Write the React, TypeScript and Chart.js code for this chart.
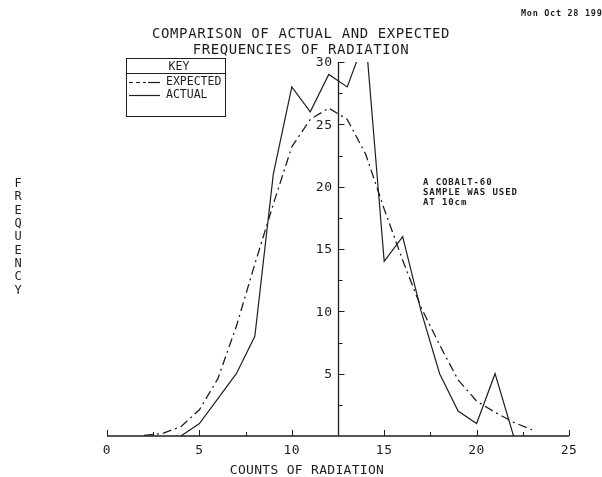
import React, { useEffect, useRef } from "react";
import { Chart, registerables } from "chart.js";

Chart.register(...registerables);

const actualCounts = [4, 5, 6, 7, 8, 9, 10, 11, 12, 13, 14, 15, 16, 17, 18, 19, 20, 21, 22];
const actualFreq = [0, 1, 3, 5, 8, 21, 28, 26, 29, 28, 32, 14, 16, 10, 5, 2, 1, 5, 0];

const expectedCounts = [2, 3, 4, 5, 6, 7, 8, 9, 10, 11, 12, 13, 14, 15, 16, 17, 18, 19, 20, 21, 22, 23];
const expectedFreq = [0.05, 0.2, 0.75, 2.1, 4.6, 8.8, 13.8, 18.6, 23.2, 25.4, 26.3, 25.4, 22.6, 18.2, 14.1, 10.3, 7.3, 4.5, 2.8, 1.9, 1.1, 0.5];

const xTickValues = [0, 5, 10, 15, 20, 25];
const yTickValues = [5, 10, 15, 20, 25, 30];

const titleLines = ["COMPARISON OF ACTUAL AND EXPECTED", "FREQUENCIES OF RADIATION"];
const xTitle = "COUNTS OF RADIATION";
const yTitle = "FREQUENCY";
const noteLines = ["A COBALT-60", "SAMPLE WAS USED", "AT 10cm"];
const dateText = "Mon Oct 28 1991";
const legendTitle = "KEY";
const legendLabels = ["EXPECTED", "ACTUAL"];

const INK = "#1e1e1e";
const DASH = [9, 4, 2, 4];
const MONO = '"DejaVu Sans Mono", monospace';

const decorPlugin = {
  id: "decor",
  afterDatasetsDraw(chart: any) {
    const ctx = chart.ctx as CanvasRenderingContext2D;
    const xs = chart.scales.x;
    const ys = chart.scales.y;
    const px = (v: number) => xs.getPixelForValue(v);
    const py = (v: number) => ys.getPixelForValue(v);
    ctx.save();
    ctx.strokeStyle = INK;
    ctx.fillStyle = INK;
    ctx.lineCap = "butt";

    // x axis
    const y0 = py(0);
    ctx.lineWidth = 1.5;
    ctx.beginPath();
    ctx.moveTo(px(0), y0);
    ctx.lineTo(px(25), y0);
    ctx.stroke();
    ctx.lineWidth = 1;
    for (let v = 0; v <= 25; v += 2.5) {
      const major = v % 5 === 0;
      const x = Math.round(px(v)) + 0.5;
      ctx.beginPath();
      ctx.moveTo(x, y0);
      ctx.lineTo(x, y0 - (major ? 6 : 4));
      ctx.stroke();
    }
    // y axis at x = 12.5
    const ax = Math.round(px(12.5)) + 0.5;
    ctx.lineWidth = 1.3;
    ctx.beginPath();
    ctx.moveTo(ax, py(0));
    ctx.lineTo(ax, py(30));
    ctx.stroke();
    ctx.lineWidth = 1;
    for (let v = 2.5; v <= 30; v += 2.5) {
      const major = v % 5 === 0;
      const y = Math.round(py(v)) + 0.5;
      ctx.beginPath();
      ctx.moveTo(ax, y);
      ctx.lineTo(ax + (major ? 6 : 4), y);
      ctx.stroke();
    }

    // tick labels
    ctx.font = `13px ${MONO}`;
    (ctx as any).letterSpacing = "0.5px";
    ctx.textBaseline = "middle";
    ctx.textAlign = "right";
    yTickValues.forEach((v) => {
      ctx.fillText(String(v), ax - 6, py(v) + 1);
    });
    ctx.textAlign = "center";
    xTickValues.forEach((v) => {
      ctx.fillText(String(v), px(v), y0 + 15);
    });

    // titles
    ctx.font = `14px ${MONO}`;
    (ctx as any).letterSpacing = "0.6px";
    ctx.textAlign = "center";
    ctx.fillText(titleLines[0], 301, 34);
    ctx.fillText(titleLines[1], 301, 50);
    ctx.font = `13px ${MONO}`;
    (ctx as any).letterSpacing = "0.3px";
    ctx.fillText(xTitle, 307, 471);

    // y title stacked letters
    ctx.font = `12px ${MONO}`;
    (ctx as any).letterSpacing = "0px";
    for (let i = 0; i < yTitle.length; i++) {
      ctx.fillText(yTitle[i], 18, 184 + i * 13.3);
    }

    // legend box
    ctx.lineWidth = 1;
    ctx.strokeRect(126.5, 58.5, 99, 58);
    ctx.beginPath();
    ctx.moveTo(126.5, 73.5);
    ctx.lineTo(225.5, 73.5);
    ctx.stroke();
    ctx.font = `11.5px ${MONO}`;
    (ctx as any).letterSpacing = "0px";
    ctx.textAlign = "center";
    ctx.fillText(legendTitle, 179, 67);
    ctx.textAlign = "left";
    ctx.fillText(legendLabels[0], 166, 82);
    ctx.fillText(legendLabels[1], 166, 95);
    ctx.lineWidth = 1.2;
    ctx.setLineDash([4, 3]);
    ctx.beginPath();
    ctx.moveTo(129, 82.5);
    ctx.lineTo(146, 82.5);
    ctx.stroke();
    ctx.setLineDash([]);
    ctx.beginPath();
    ctx.moveTo(148, 82.5);
    ctx.lineTo(160, 82.5);
    ctx.stroke();
    ctx.beginPath();
    ctx.moveTo(129, 95.5);
    ctx.lineTo(160, 95.5);
    ctx.stroke();

    // annotation
    ctx.font = `bold 9px ${MONO}`;
    (ctx as any).letterSpacing = "0.9px";
    ctx.textAlign = "left";
    noteLines.forEach((t, i) => ctx.fillText(t, 423, 183 + i * 9.6));

    // date
    ctx.font = `bold 8.5px ${MONO}`;
    (ctx as any).letterSpacing = "0.7px";
    ctx.fillText(dateText, 521, 14);

    ctx.restore();
  },
};

export default function App() {
  const ref = useRef<HTMLCanvasElement | null>(null);
  useEffect(() => {
    document.body.style.margin = "0";
    document.body.style.background = "#ffffff";
    const canvas = ref.current!;
    const chart = new Chart(canvas, {
      type: "line",
      data: {
        datasets: [
          {
            label: legendLabels[0],
            data: expectedCounts.map((x, i) => ({ x, y: expectedFreq[i] })),
            borderColor: INK,
            borderWidth: 1.3,
            borderDash: DASH,
            pointRadius: 0,
            tension: 0,
            fill: false,
          },
          {
            label: legendLabels[1],
            data: actualCounts.map((x, i) => ({ x, y: actualFreq[i] })),
            borderColor: INK,
            borderWidth: 1.2,
            pointRadius: 0,
            tension: 0,
            fill: false,
          },
        ],
      },
      options: {
        responsive: false,
        animation: false,
        events: [],
        layout: { padding: { left: 107, right: 33, top: 62, bottom: 41 } },
        scales: {
          x: { type: "linear", min: 0, max: 25, display: false },
          y: { type: "linear", min: 0, max: 30, display: false },
        },
        plugins: {
          legend: { display: false },
          tooltip: { enabled: false },
          title: { display: false },
        },
      },
      plugins: [decorPlugin],
    });
    return () => chart.destroy();
  }, []);
  return (
    <canvas
      ref={ref}
      width={602}
      height={477}
      style={{ display: "block", width: 602, height: 477, background: "#fff" }}
    />
  );
}
